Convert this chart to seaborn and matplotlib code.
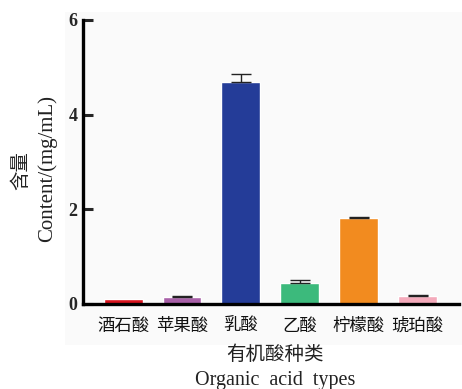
import matplotlib
matplotlib.use("Agg")
import matplotlib.pyplot as plt
import seaborn as sns
import pandas as pd
from matplotlib.patches import Rectangle

# Organic acid content (mg/mL), mean and upper error
acids = ["酒石酸", "苹果酸", "乳酸", "乙酸", "柠檬酸", "琥珀酸"]
content = [0.10, 0.14, 4.69, 0.45, 1.81, 0.17]
error = [0.00, 0.03, 0.17, 0.05, 0.02, 0.01]
colors = ["#d9141f", "#a860a8", "#243c98", "#3cba7c", "#f28b1f", "#f4aabb"]
yticks = [0, 2, 4, 6]

sns.set_style("ticks")
CJK = ["Noto Sans CJK SC", "DejaVu Sans"]
SERIF = ["Liberation Serif", "DejaVu Serif"]
plt.rcParams["font.family"] = CJK

df = pd.DataFrame({"acid": acids, "content": content})

fig = plt.figure(figsize=(4.62, 3.89), dpi=100)
fig.patch.set_facecolor("white")
# faint panel behind the plot
panel = Rectangle((65 / 462, 1 - 345 / 389), (462 - 65) / 462, (345 - 12) / 389,
                  transform=fig.transFigure, facecolor="#fafafa",
                  edgecolor="none", zorder=-10)
fig.add_artist(panel)

ax = fig.add_axes([83 / 462, 1 - 304 / 389, (459 - 83) / 462, (304 - 20) / 389])
ax.set_facecolor("none")

sns.barplot(data=df, x="acid", y="content", hue="acid", palette=colors,
            width=0.66, legend=False, ax=ax, errorbar=None, saturation=1)

# upper error bars, only where a spread was measured
idx = [i for i, e in enumerate(error) if e > 0]
ax.errorbar(idx, [content[i] for i in idx],
            yerr=[[0] * len(idx), [error[i] for i in idx]],
            fmt="none", ecolor="#222222", elinewidth=1.0, capsize=7, capthick=1.0)

ax.set_ylim(0, 6)
ax.set_xlim(-0.68, 5.7)
ax.set_yticks(yticks)
ax.set_yticklabels([str(t) for t in yticks], fontfamily=SERIF, fontweight="bold", fontsize=13)
ax.tick_params(axis="y", direction="in", length=7.5, width=2.2, pad=4)
ax.tick_params(axis="x", length=0, pad=9)
for lab in ax.get_xticklabels():
    lab.set_fontfamily(CJK)
    lab.set_fontsize(12.5)
    lab.set_color("#111111")

sns.despine(ax=ax)
for s in ["left", "bottom"]:
    ax.spines[s].set_linewidth(2.4)
    ax.spines[s].set_color("black")

ax.set_xlabel("")
ax.set_ylabel("")

# axis titles
fig.text(275 / 462, 1 - 354 / 389, "有机酸种类", ha="center", va="center",
         fontsize=14, family=CJK, color="#222222")
fig.text(275 / 462, 1 - 380 / 389, "Organic  acid  types", ha="center", va="center",
         fontsize=14.5, family=SERIF, color="#222222")
fig.text(21 / 462, 1 - 171 / 389, "含量", ha="center", va="center", rotation=90,
         fontsize=14, family=CJK, color="#222222")
fig.text(47 / 462, 1 - 168 / 389, "Content/(mg/mL)", ha="center", va="center", rotation=90,
         fontsize=15, family=SERIF, color="#222222")

fig.savefig("out.png", dpi=100)
